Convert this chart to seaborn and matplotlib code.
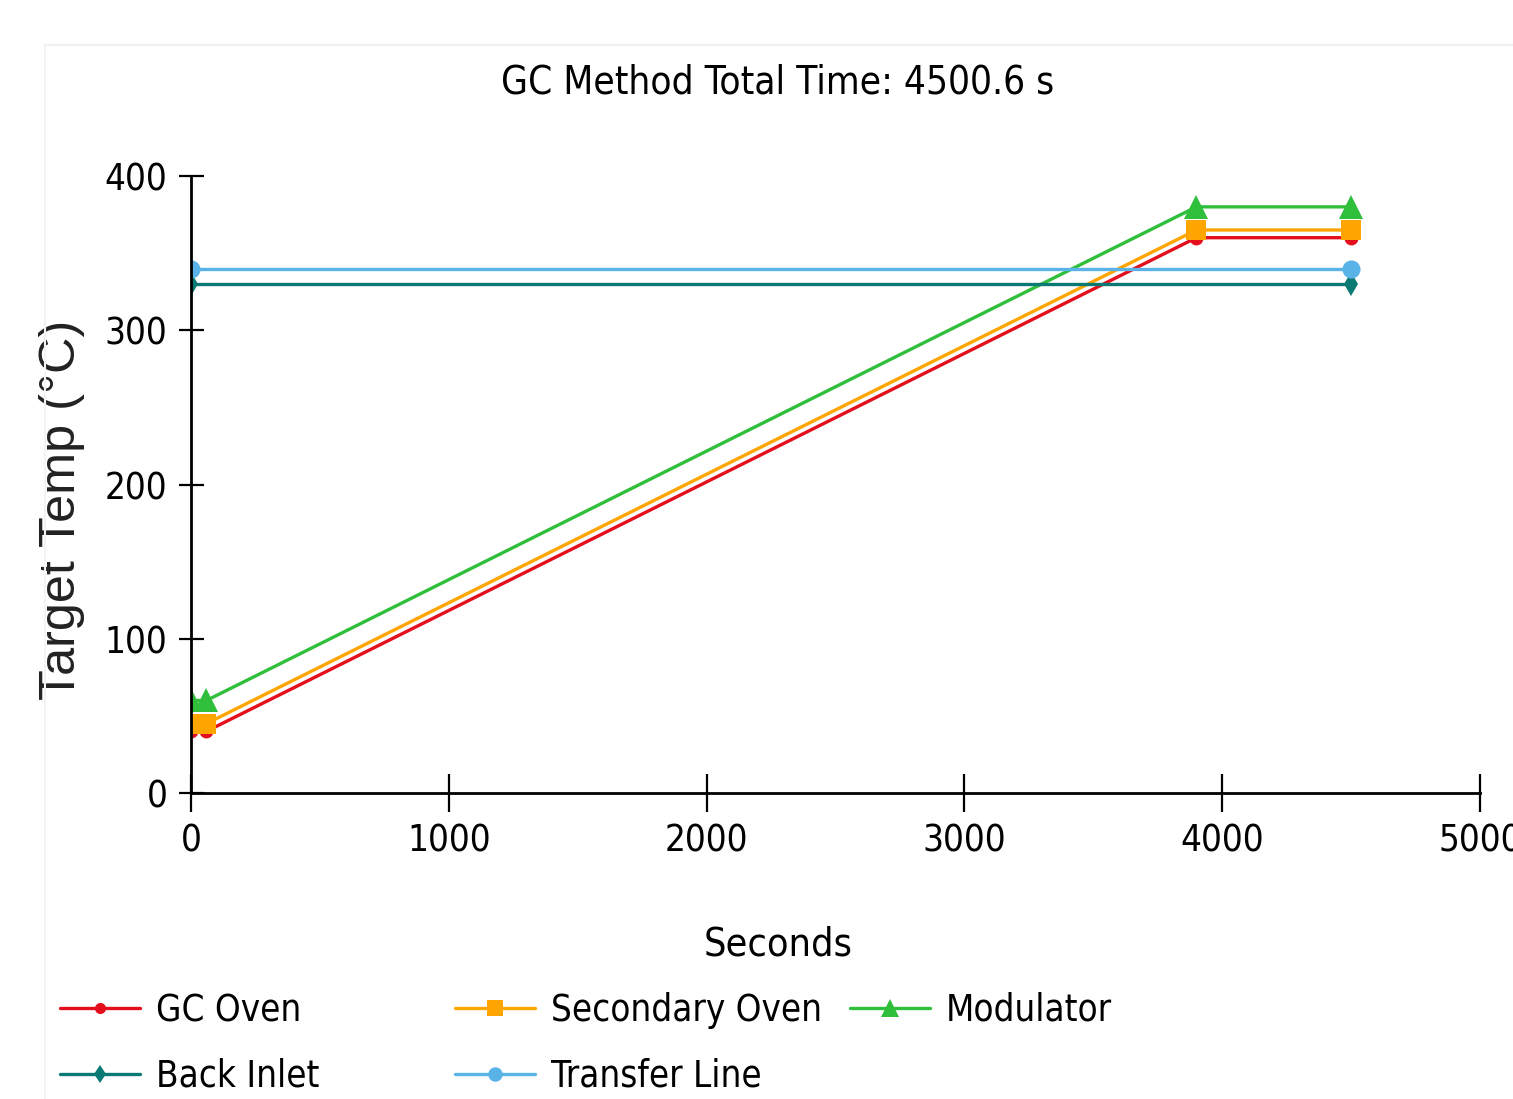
import re
import matplotlib
matplotlib.use('Agg')
import matplotlib.pyplot as plt
import seaborn as sns
import pandas as pd
from matplotlib.lines import Line2D
from matplotlib import font_manager as fm

# Temperaturprogram (sekunder, grader C)
oven_time = [0, 60, 3900, 4500.6]
gc_oven = [40, 40, 360, 360]
secondary_oven = [45, 45, 365, 365]
modulator = [60, 60, 380, 380]

flat_time = [0, 4500.6]
back_inlet = [330, 330]
transfer_line = [340, 340]

series_names = ['GC Oven', 'Secondary Oven', 'Modulator', 'Back Inlet', 'Transfer Line']
series_colors = ['#e30f1c', '#ffa500', '#2fbf3a', '#0b7a75', '#5ab3e6']
series_markers = ['o', 's', '^', 'd', 'o']
series_msize = [10, 15, 17, 12, 13]

x_ticks = [0, 1000, 2000, 3000, 4000, 5000]
y_ticks = [0, 100, 200, 300, 400]
title_text = 'GC Method Total Time: 4500.6 s'

sns.set_style('ticks')
plt.rcParams['font.family'] = ['DejaVu Sans']


# Finn en smal skrift hvis en finnes (skjermbildet har smal tekst)
def pick_narrow():
    prefs = ['LiberationSansNarrow-Regular', 'DejaVuSansCondensed.', 'NotoSans-Condensed.',
             'RobotoCondensed-Regular', 'OpenSans_Condensed-Regular', 'NotoSans-SemiCondensed.']
    files = [f.fname for f in fm.fontManager.ttflist]
    for p in prefs:
        for fn in files:
            if p in fn:
                return fn
    for f in fm.fontManager.ttflist:
        if re.search('narrow|condensed', f.fname, re.I) and not re.search(
                'bold|italic|mono|serif|light|thin|black|medium', f.fname, re.I):
            return f.fname
    return None


narrow_file = pick_narrow()


def make_prop(size):
    if narrow_file:
        return fm.FontProperties(fname=narrow_file, size=size)
    return fm.FontProperties(family='DejaVu Sans', size=size)


fig = plt.figure(figsize=(15.13, 10.99), dpi=100)
renderer = fig.canvas.get_renderer()


def fit_size(text, target_px, prop_fn=make_prop):
    w, h, d = renderer.get_text_width_height_descent(text, prop_fn(20), ismath=False)
    return 20 * target_px / w


# litt større enn bredden tilsier, fordi skjermbildet er strukket i høyden
grow = 1.1
title_size = fit_size(title_text, 503) * grow
tick_size = fit_size('1000', 76) * grow
label_size = fit_size('Seconds', 135) * grow
legend_size = fit_size('Secondary Oven', 260) * 1.04


def ylab_prop(size):
    return fm.FontProperties(family=['Liberation Sans', 'DejaVu Sans'], size=size)


ylab_size = fit_size('Target Temp (°C)', 380, ylab_prop)

ax = fig.add_axes([191 / 1513, 1 - 793 / 1099, (1480 - 191) / 1513, (793 - 176) / 1099])

xs = [oven_time, oven_time, oven_time, flat_time, flat_time]
ys = [gc_oven, secondary_oven, modulator, back_inlet, transfer_line]
for name, x, y, c, m, ms in zip(series_names, xs, ys, series_colors, series_markers, series_msize):
    df = pd.DataFrame({'Seconds': x, 'Temp': y})
    sns.lineplot(data=df, x='Seconds', y='Temp', ax=ax, color=c, marker=m,
                 markersize=ms, markeredgecolor=c, markeredgewidth=0,
                 linewidth=2.4, estimator=None, label=name, legend=False)

ax.set_xlim(0, 5000)
ax.set_ylim(0, 400)
ax.set_xticks(x_ticks)
ax.set_yticks(y_ticks)
sns.despine(ax=ax)
for s in ['left', 'bottom']:
    ax.spines[s].set_linewidth(2)
    ax.spines[s].set_color('black')
ax.tick_params(axis='x', direction='inout', length=27, width=1.6, pad=8, colors='black')
ax.tick_params(axis='y', direction='inout', length=18, width=1.6, pad=8, colors='black')
for lab in ax.get_xticklabels() + ax.get_yticklabels():
    lab.set_fontproperties(make_prop(tick_size))
    lab.set_color('black')

ax.set_xlabel('Seconds', fontproperties=make_prop(label_size), color='black')
ax.xaxis.label.set_va('center')
ax.xaxis.set_label_coords((778 - 191) / (1480 - 191), -(945 - 793) / (793 - 176))
ax.set_ylabel('Target Temp (°C)', fontproperties=ylab_prop(ylab_size), color='#222222')
ax.yaxis.label.set_va('center')
ax.yaxis.set_label_coords(-(191 - 62) / (1480 - 191), (793 - 510) / (793 - 176))

fig.text(778 / 1513, 1 - 82 / 1099, title_text, fontproperties=make_prop(title_size),
         ha='center', va='center', color='black')

# Legende: tre kolonner med fast bredde, som i skjermbildet
handles = {}
for name, c, m, ms in zip(series_names, series_colors, series_markers, series_msize):
    handles[name] = Line2D([], [], color=c, marker=m, markersize=ms * 0.8,
                           markeredgewidth=0, linewidth=2.4)

leg_px = legend_size * 100 / 72
_, th, _ = renderer.get_text_width_height_descent('Back Inlet', make_prop(legend_size), ismath=False)
row_pitch = 58
spacing = max(0.0, (row_pitch - th) / leg_px)
columns = [(['GC Oven', 'Back Inlet'], 60), (['Secondary Oven', 'Transfer Line'], 455),
           (['Modulator'], 850)]
for names, x0 in columns:
    y_mid = 1010 if len(names) == 1 else (1008 + 1075) / 2 + 2
    leg = fig.legend([handles[n] for n in names], names, loc='center left',
                     bbox_to_anchor=(x0 / 1513, 1 - y_mid / 1099), frameon=False,
                     prop=make_prop(legend_size), handlelength=80 / leg_px,
                     handletextpad=16 / leg_px, labelspacing=spacing,
                     borderpad=0, borderaxespad=0)
    for t in leg.get_texts():
        t.set_color('black')

# svak ramme fra kontrollen
fig.add_artist(Line2D([45 / 1513, 1], [1 - 45 / 1099, 1 - 45 / 1099], transform=fig.transFigure,
                      color='#f0f0f0', linewidth=1.5))
fig.add_artist(Line2D([45 / 1513, 45 / 1513], [1 - 45 / 1099, 0], transform=fig.transFigure,
                      color='#f4f4f4', linewidth=1.5))

fig.savefig('out.png', dpi=100)
